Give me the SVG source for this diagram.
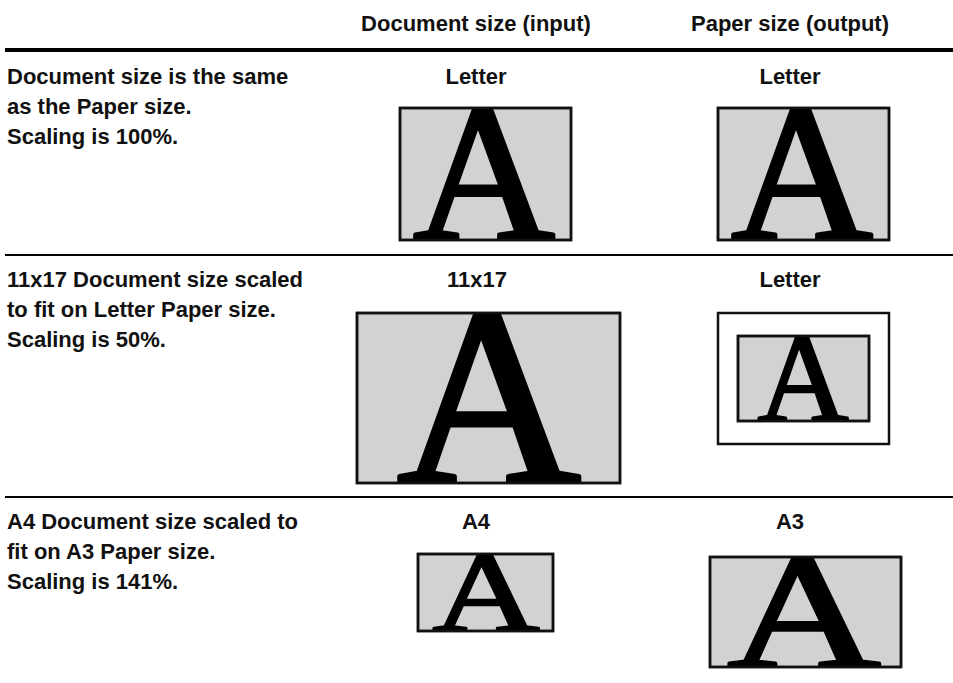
<svg xmlns="http://www.w3.org/2000/svg" width="953" height="683" viewBox="0 0 953 683">
<style>
.lbl{font-family:"Liberation Sans",Arial,sans-serif;font-weight:bold;font-size:22px;fill:#111}
.hd{text-anchor:middle}
.box{fill:#d1d2d4;stroke:#111;stroke-width:2.5}
.frame{fill:none;stroke:#111;stroke-width:2.5}
.paper{fill:#fff;stroke:#111;stroke-width:2.5}
.big{font-family:"Liberation Serif","Times New Roman",serif;font-weight:normal;fill:#000;stroke:#000;stroke-linejoin:round;text-anchor:middle}
.rule{stroke:#000}
</style>
<defs>
<clipPath id="cA"><rect x="400" y="108" width="171" height="132"/></clipPath>
<clipPath id="cB"><rect x="718" y="108" width="171" height="132"/></clipPath>
<clipPath id="cC"><rect x="357" y="313" width="263" height="170"/></clipPath>
<clipPath id="cD"><rect x="738" y="336" width="131" height="85"/></clipPath>
<clipPath id="cE"><rect x="418" y="554" width="135" height="77"/></clipPath>
<clipPath id="cF"><rect x="710" y="557" width="191" height="110"/></clipPath>
</defs>

<g id="connectors">
<line class="rule" x1="5" y1="50" x2="953" y2="50" stroke-width="4"/>
<line class="rule" x1="5" y1="255" x2="953" y2="255" stroke-width="2"/>
<line class="rule" x1="5" y1="497" x2="953" y2="497" stroke-width="2"/>
</g>

<g id="header">
<text class="lbl hd" x="476" y="31">Document size (input)</text>
<text class="lbl hd" x="790" y="31">Paper size (output)</text>
</g>

<g id="row1-text">
<text class="lbl" x="7" y="84">Document size is the same</text>
<text class="lbl" x="7" y="114">as the Paper size.</text>
<text class="lbl" x="7" y="144">Scaling is 100%.</text>
</g>
<g id="row1-input">
<text class="lbl hd" x="476" y="84">Letter</text>
<rect class="box" x="400" y="108" width="171" height="132"/>
<text class="big" x="484" y="240" font-size="196" stroke-width="4" clip-path="url(#cA)">A</text>
<rect class="frame" x="400" y="108" width="171" height="132"/>
</g>
<g id="row1-output">
<text class="lbl hd" x="790" y="84">Letter</text>
<rect class="box" x="718" y="108" width="171" height="132"/>
<text class="big" x="802" y="240" font-size="196" stroke-width="4" clip-path="url(#cB)">A</text>
<rect class="frame" x="718" y="108" width="171" height="132"/>
</g>

<g id="row2-text">
<text class="lbl" x="7" y="287">11x17 Document size scaled</text>
<text class="lbl" x="7" y="317">to fit on Letter Paper size.</text>
<text class="lbl" x="7" y="347">Scaling is 50%.</text>
</g>
<g id="row2-input">
<text class="lbl hd" x="477" y="287">11x17</text>
<rect class="box" x="357" y="313" width="263" height="170"/>
<text class="big" x="489" y="483" font-size="254" stroke-width="5" clip-path="url(#cC)">A</text>
<rect class="frame" x="357" y="313" width="263" height="170"/>
</g>
<g id="row2-output">
<text class="lbl hd" x="790" y="287">Letter</text>
<rect class="paper" x="718" y="313" width="171" height="131"/>
<rect class="box" x="738" y="336" width="131" height="85"/>
<text class="big" x="803" y="421" font-size="126" stroke-width="2.6" clip-path="url(#cD)">A</text>
<rect class="frame" x="738" y="336" width="131" height="85"/>
</g>

<g id="row3-text">
<text class="lbl" x="7" y="529">A4 Document size scaled to</text>
<text class="lbl" x="7" y="559">fit on A3 Paper size.</text>
<text class="lbl" x="7" y="589">Scaling is 141%.</text>
</g>
<g id="row3-input">
<text class="lbl hd" x="476" y="529">A4</text>
<rect class="box" x="418" y="554" width="135" height="77"/>
<g clip-path="url(#cE)"><text class="big" transform="translate(486 631) scale(1.3 1)" font-size="114" stroke-width="2.4">A</text></g>
<rect class="frame" x="418" y="554" width="135" height="77"/>
</g>
<g id="row3-output">
<text class="lbl hd" x="790" y="529">A3</text>
<rect class="box" x="710" y="557" width="191" height="110"/>
<g clip-path="url(#cF)"><text class="big" transform="translate(804 667) scale(1.3 1)" font-size="163" stroke-width="3.4">A</text></g>
<rect class="frame" x="710" y="557" width="191" height="110"/>
</g>
</svg>
